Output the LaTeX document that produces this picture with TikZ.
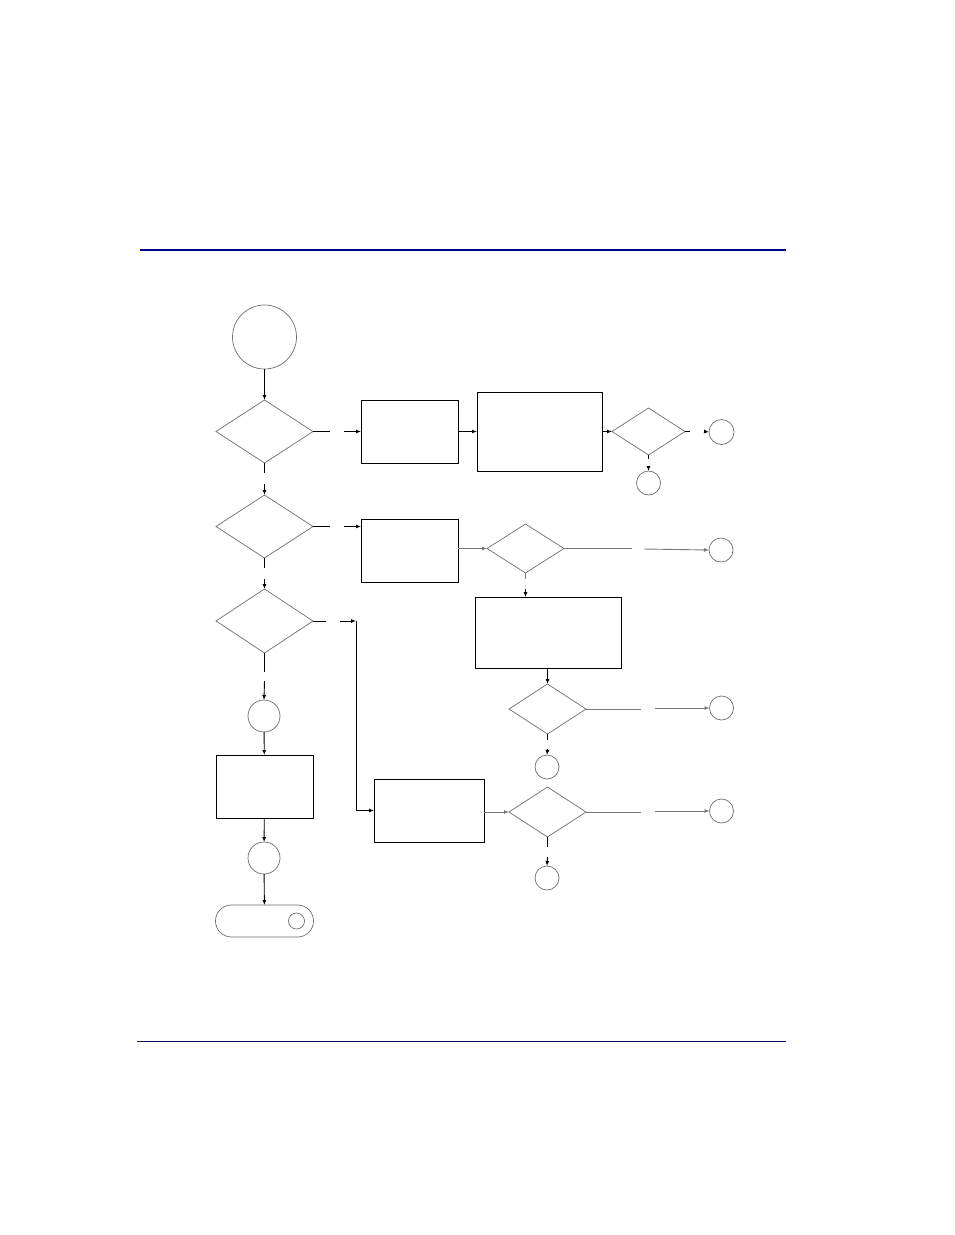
\documentclass[tikz,border=0pt]{standalone}
\usetikzlibrary{shapes.geometric,arrows.meta}
\definecolor{navyA}{RGB}{0,0,140}
\definecolor{navyB}{RGB}{10,10,90}
\definecolor{shapegray}{RGB}{110,110,110}
\definecolor{linegray}{RGB}{120,120,120}
\begin{document}
\begin{tikzpicture}[x=1pt,y=-1pt,
  every node/.style={inner sep=0pt,outer sep=0pt},
  stepbox/.style={rectangle,draw=black,line width=1pt},
  dec/.style={diamond,draw=shapegray,line width=0.7pt},
  conn/.style={circle,draw=shapegray,line width=0.7pt},
  arr/.style={line width=0.9pt,-{Latex[length=5pt,width=4pt]}},
  stub/.style={line width=0.9pt},
  garr/.style={line width=0.9pt,draw=linegray,-{Latex[length=5pt,width=4pt]}},
  gstub/.style={line width=0.9pt,draw=linegray}]
\useasboundingbox (0,0) rectangle (954,1235);
\fill[white] (0,0) rectangle (954,1235);
% header and footer rules
\coordinate (hl) at (140,250); \coordinate (hr) at (786,250);
\draw[navyA,line width=2.2pt] (hl) -- (hr);
\coordinate (fl) at (137,1041); \coordinate (fr) at (786,1041);
\draw[navyB,line width=1pt] (fl) -- (fr);
% nodes
\node[conn,minimum size=64pt] (start) at (264.5,337) {};
\node[dec,minimum width=97pt,minimum height=63pt] (d1) at (264.5,431.5) {};
\node[stepbox,minimum width=97pt,minimum height=63pt] (b1) at (409.5,431.5) {};
\node[stepbox,minimum width=125pt,minimum height=79pt] (b2) at (539.5,431.5) {};
\node[dec,minimum width=73pt,minimum height=47pt] (d2) at (648.5,431.5) {};
\node[conn,minimum size=25pt] (c1) at (721.5,432) {};
\node[conn,minimum size=24pt] (c2) at (648.5,483) {};
\node[dec,minimum width=97pt,minimum height=63pt] (d3) at (264.5,526.5) {};
\node[stepbox,minimum width=97pt,minimum height=63pt] (b3) at (409.5,550.5) {};
\node[dec,minimum width=77pt,minimum height=49pt] (d4) at (525.5,548.5) {};
\node[conn,minimum size=24pt] (c3) at (721,550) {};
\node[dec,minimum width=97pt,minimum height=64pt] (dl) at (264.5,621) {};
\node[stepbox,minimum width=146pt,minimum height=71pt] (b4) at (548,632.5) {};
\node[dec,minimum width=77pt,minimum height=50pt] (d5) at (547.5,709) {};
\node[conn,minimum size=24pt] (c4) at (721.5,708) {};
\node[conn,minimum size=24pt] (c5) at (547,767) {};
\node[stepbox,minimum width=110pt,minimum height=63pt] (b5) at (429,810.5) {};
\node[dec,minimum width=77pt,minimum height=50pt] (d6) at (547.5,812) {};
\node[conn,minimum size=24pt] (c6) at (721.5,811) {};
\node[conn,minimum size=24pt] (c7) at (547,878) {};
\node[conn,minimum size=32pt] (cl1) at (264,716) {};
\node[stepbox,minimum width=97pt,minimum height=63pt] (b6) at (264.5,786.5) {};
\node[conn,minimum size=32pt] (cl2) at (264,858) {};
\node[rectangle,rounded corners=16pt,draw=shapegray,line width=0.7pt,minimum width=98pt,minimum height=32pt] (term) at (264.5,921) {};
\node[conn,minimum size=16pt] (tdot) at (296.5,921) {};
% helper coordinates for broken connectors
\coordinate (d1e) at (330,431.5); \coordinate (d1a) at (344,431.5);
\coordinate (d1s) at (264.5,473); \coordinate (d1b) at (264.5,484);
\coordinate (d2e) at (690,431.5); \coordinate (d2a) at (704,431.5);
\coordinate (d2s) at (648.5,459); \coordinate (d2b) at (648.5,466);
\coordinate (d3e) at (330,526.5); \coordinate (d3a) at (344,526.5);
\coordinate (d3s) at (264.5,568); \coordinate (d3b) at (264.5,579);
\coordinate (d4e) at (632,548.5); \coordinate (d4a) at (644,549);
\coordinate (d4s) at (525.5,579); \coordinate (d4b) at (525.5,589);
\coordinate (dle) at (326,621); \coordinate (dla) at (340,621);
\coordinate (corner) at (356,621);
\coordinate (dls) at (264.5,672); \coordinate (dlb) at (264.5,681);
\coordinate (d5e) at (641,709); \coordinate (d5a) at (655,708);
\coordinate (d5s) at (547.5,740); \coordinate (d5b) at (547.5,749);
\coordinate (d6e) at (641,812); \coordinate (d6a) at (655,811);
\coordinate (d6s) at (547.5,847); \coordinate (d6b) at (547.5,857);
% connectors
\draw[arr] (start) -- (d1);
\draw[stub] (d1.east) -- (d1e);
\draw[arr] (d1a) -- (b1.west);
\draw[arr] (b1) -- (b2);
\draw[arr] (b2) -- (d2);
\draw[stub] (d2.east) -- (d2e);
\draw[arr] (d2a) -- (c1.west);
\draw[stub] (d2.south) -- (d2s);
\draw[arr] (d2b) -- (c2.north);
\draw[stub] (d1.south) -- (d1s);
\draw[arr] (d1b) -- (d3.north);
\draw[stub] (d3.east) -- (d3e);
\draw[arr] (d3a) -- (d3.east -| b3.west);
\draw[garr] (d4.west -| b3.east) -- (d4.west);
\draw[gstub] (d4.east) -- (d4e);
\draw[garr] (d4a) -- (c3.west);
\draw[gstub] (d4.south) -- (d4s);
\draw[arr] (d4b) -- (d4.south |- b4.north);
\draw[stub] (d3.south) -- (d3s);
\draw[arr] (d3b) -- (dl.north);
\draw[stub] (dl.east) -- (dle);
\draw[arr] (dla) -- (corner);
\draw[arr] (corner) |- (b5.west);
\draw[stub] (dl.south) -- (dls);
\draw[arr] (dlb) -- (cl1.north);
\draw[arr] (cl1) -- (b6);
\draw[arr] (b6) -- (cl2);
\draw[arr] (cl2) -- (term);
\draw[arr] (d5.north |- b4.south) -- (d5.north);
\draw[gstub] (d5.east) -- (d5e);
\draw[garr] (d5a) -- (c4.west);
\draw[stub] (d5.south) -- (d5s);
\draw[arr] (d5b) -- (c5.north);
\draw[garr] (d6.west -| b5.east) -- (d6.west);
\draw[gstub] (d6.east) -- (d6e);
\draw[garr] (d6a) -- (c6.west);
\draw[stub] (d6.south) -- (d6s);
\draw[arr] (d6b) -- (c7.north);
\end{tikzpicture}
\end{document}
